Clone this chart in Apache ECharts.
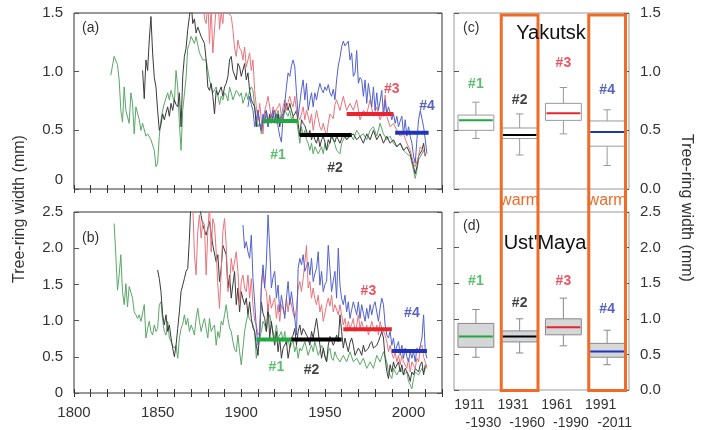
<!DOCTYPE html>
<html><head><meta charset="utf-8">
<script src="https://cdn.jsdelivr.net/npm/echarts@6/dist/echarts.min.js"></script>
<style>html,body{margin:0;padding:0;background:#fff}#c{width:704px;height:430px}</style>
</head><body><div id="c"></div>
<script>
// ---------- Panel (a) Yakutsk series [year, width mm] ----------
const aGreen = [[1822,.97],[1824,1.13],[1826,1.06],[1827,.93],[1828,.67],[1829,.57],[1830,.87],[1831,.67],[1833,.56],[1834,.82],[1835,.73],[1836,.47],[1837,.70],[1839,.59],[1840,.50],[1841,.56],[1843,.45],[1844,.47],[1846,.42],[1848,.33],[1849,.19],[1850,.22],[1851,.45],[1852,.59],[1853,.67],[1854,.73],[1856,.82],[1857,.76],[1858,.84],[1860,.74],[1861,1.01],[1862,.87],[1863,.56],[1864,.33],[1865,.67],[1867,.95],[1868,1.20],[1869,1.24],[1870,1.30],[1872,1.24],[1873,1.30],[1875,1.16],[1877,1.10],[1879,1.10],[1881,.93],[1883,.82],[1885,.87],[1887,.72],[1888,.79],[1889,.76],[1890,.82],[1891,.80],[1892,.75],[1893,.87],[1894,.82],[1895,.76],[1897,.84],[1898,.82],[1899,.79],[1900,.82],[1901,.73],[1903,.82],[1904,.76],[1905,.84],[1906,.87],[1907,.84],[1908,.70],[1909,.59],[1910,.53],[1911,.56],[1912,.47],[1913,.56],[1914,.62],[1916,.53],[1917,.62],[1918,.56],[1919,.64],[1920,.59],[1922,.67],[1923,.59],[1924,.64],[1925,.59],[1926,.67],[1928,.62],[1929,.67],[1930,.59],[1931,.62],[1932,.56],[1933,.59],[1934,.50],[1935,.39],[1936,.53],[1937,.45],[1938,.50],[1939,.42],[1940,.39],[1941,.33],[1942,.39],[1943,.30],[1944,.36],[1946,.30],[1947,.33],[1948,.36],[1949,.30],[1950,.39],[1951,.33],[1952,.36],[1953,.40],[1954,.45],[1955,.42],[1956,.38],[1957,.33],[1959,.30],[1960,.39],[1962,.45],[1963,.42],[1965,.47],[1967,.42],[1969,.50],[1971,.45],[1973,.47],[1975,.42],[1977,.50],[1979,.53],[1981,.45],[1983,.56],[1985,.47],[1987,.42],[1989,.45],[1991,.39],[1993,.36],[1995,.39],[1997,.33],[1999,.30],[2001,.28],[2003,.16],[2004,.09],[2005,.16],[2006,.25],[2008,.30],[2009,.33],[2010,.28]];
const aBlack = [[1841,1.01],[1842,.77],[1843,1.10],[1844,1.01],[1845,1.27],[1846,1.47],[1847,1.16],[1848,.95],[1849,.87],[1850,.67],[1851,.50],[1852,.55],[1853,.64],[1854,.59],[1855,.65],[1856,.70],[1857,.62],[1858,.73],[1859,.67],[1860,.76],[1861,.72],[1862,.70],[1863,.82],[1864,.53],[1865,.96],[1866,1.13],[1867,1.20],[1868,1.36],[1869,1.47],[1870,1.60],[1871,1.41],[1872,1.45],[1873,1.33],[1874,1.38],[1876,1.30],[1878,1.24],[1879,1.10],[1880,.87],[1881,.84],[1882,.90],[1883,.79],[1884,.64],[1885,.84],[1886,.80],[1887,.79],[1888,.87],[1889,.79],[1890,.87],[1891,.90],[1892,.96],[1893,1.10],[1894,1.13],[1895,1.01],[1897,.93],[1898,1.07],[1899,1.04],[1900,.96],[1902,1.07],[1903,.93],[1904,.99],[1905,.84],[1906,.76],[1907,.73],[1908,.70],[1909,.53],[1910,.67],[1911,.56],[1912,.50],[1913,.60],[1914,.64],[1915,.67],[1916,.56],[1917,.64],[1918,.59],[1919,.62],[1920,.67],[1921,.56],[1922,.64],[1923,.53],[1924,.62],[1925,.64],[1926,.67],[1927,.73],[1928,.67],[1929,.73],[1930,.67],[1931,.62],[1932,.64],[1933,.67],[1934,.56],[1935,.45],[1936,.59],[1937,.56],[1938,.54],[1939,.53],[1940,.45],[1941,.50],[1942,.42],[1943,.47],[1944,.42],[1945,.39],[1946,.45],[1947,.36],[1948,.42],[1949,.45],[1950,.40],[1951,.33],[1952,.42],[1953,.39],[1954,.47],[1955,.42],[1956,.40],[1957,.45],[1958,.42],[1959,.39],[1961,.47],[1963,.42],[1965,.45],[1967,.47],[1969,.42],[1971,.45],[1973,.39],[1975,.47],[1977,.42],[1979,.50],[1981,.42],[1983,.47],[1985,.39],[1987,.45],[1989,.39],[1991,.42],[1993,.36],[1995,.39],[1997,.33],[1999,.36],[2001,.30],[2003,.19],[2004,.13],[2005,.19],[2006,.28],[2008,.33],[2009,.39],[2010,.28]];
const aRed = [[1877,1.70],[1878,1.45],[1879,1.41],[1880,1.60],[1881,1.24],[1882,1.55],[1883,1.16],[1884,1.36],[1885,1.55],[1886,1.70],[1887,1.36],[1888,1.50],[1889,1.41],[1890,1.65],[1891,1.55],[1892,1.50],[1894,1.47],[1895,1.36],[1896,1.20],[1897,1.13],[1898,1.27],[1899,1.20],[1900,1.18],[1901,1.10],[1902,1.21],[1903,1.04],[1904,1.10],[1905,1.16],[1906,1.01],[1907,1.10],[1908,.84],[1909,.70],[1910,.59],[1911,.73],[1912,.59],[1913,.47],[1914,.67],[1915,.72],[1916,.79],[1917,.70],[1918,.59],[1919,.70],[1920,.64],[1921,.68],[1922,.70],[1923,.73],[1924,.62],[1925,.70],[1926,.76],[1927,.67],[1928,.74],[1929,.79],[1930,.73],[1931,.70],[1932,.79],[1933,.67],[1934,.62],[1935,.59],[1936,.64],[1937,.70],[1938,.59],[1939,.67],[1940,.62],[1941,.56],[1942,.64],[1943,.50],[1944,.59],[1945,.67],[1946,.60],[1947,.53],[1948,.50],[1949,.56],[1950,.50],[1951,.45],[1952,.56],[1953,.64],[1954,.62],[1955,.60],[1956,.72],[1957,.76],[1958,.76],[1959,.67],[1961,.79],[1963,.67],[1965,.73],[1967,.67],[1969,.76],[1971,.59],[1973,.67],[1975,.64],[1977,.76],[1979,.62],[1981,.70],[1983,.59],[1985,.67],[1986,.80],[1987,.62],[1989,.53],[1991,.56],[1993,.50],[1995,.45],[1997,.47],[1999,.39],[2001,.33],[2003,.22],[2004,.19],[2006,.28],[2007,.36],[2009,.33],[2010,.29]];
const aBlue = [[1904,.70],[1905,.79],[1906,.72],[1907,.67],[1908,.53],[1909,.59],[1910,.67],[1911,.55],[1912,.50],[1913,.64],[1914,.56],[1915,.67],[1916,.53],[1917,.60],[1918,.62],[1919,.67],[1920,.56],[1921,.64],[1922,.53],[1923,.45],[1924,.40],[1925,.62],[1926,.73],[1927,.87],[1928,.99],[1929,.96],[1930,1.05],[1931,1.10],[1932,1.04],[1933,.82],[1934,.62],[1935,.73],[1936,.85],[1937,.93],[1938,.76],[1939,.90],[1940,.67],[1941,.75],[1942,.82],[1943,.70],[1944,.82],[1945,.76],[1946,.84],[1947,.90],[1948,.85],[1949,.82],[1950,.87],[1951,.84],[1952,.89],[1953,.82],[1954,.79],[1955,.85],[1956,.76],[1957,.93],[1958,1.05],[1959,1.12],[1960,1.21],[1961,1.26],[1962,1.22],[1963,1.21],[1964,1.26],[1965,1.10],[1966,1.16],[1967,.96],[1968,.99],[1969,1.18],[1970,.90],[1971,.95],[1972,.93],[1973,.79],[1974,.93],[1975,.73],[1976,.90],[1977,.80],[1978,.70],[1979,.87],[1980,.67],[1981,.82],[1982,.67],[1983,.75],[1984,.84],[1985,.62],[1986,.76],[1987,.64],[1988,.70],[1989,.65],[1990,.59],[1991,.64],[1992,.56],[1993,.62],[1994,.53],[1995,.58],[1996,.62],[1997,.47],[1998,.59],[1999,.45],[2000,.53],[2001,.45],[2002,.39],[2003,.28],[2004,.22],[2005,.42],[2006,.59],[2007,.67],[2008,.60],[2009,.53],[2010,.42],[2011,.30]];

// ---------- Panel (b) Ust'Maya series ----------
const bGreen = [[1824,2.34],[1825,1.91],[1826,1.42],[1827,1.63],[1828,1.91],[1829,1.40],[1830,1.22],[1831,1.51],[1832,1.19],[1833,1.47],[1835,1.31],[1836,1.12],[1837,1.08],[1838,1.03],[1839,1.08],[1840,.99],[1842,1.22],[1843,.76],[1844,.89],[1845,.99],[1846,.85],[1847,.80],[1848,.94],[1849,.85],[1850,.89],[1851,1.22],[1852,1.26],[1853,1.00],[1854,.85],[1855,.80],[1856,.99],[1857,.76],[1858,.71],[1859,.65],[1860,.62],[1861,.66],[1862,.48],[1863,.76],[1864,.89],[1865,.95],[1866,1.08],[1867,.94],[1868,1.03],[1869,.85],[1870,.94],[1871,.88],[1872,.80],[1873,1.03],[1874,1.17],[1875,.99],[1876,.85],[1877,.95],[1878,1.03],[1879,.89],[1880,.76],[1881,1.03],[1882,.85],[1883,.90],[1884,.94],[1885,.66],[1886,.85],[1887,.76],[1888,.99],[1889,.94],[1890,1.08],[1891,1.22],[1892,1.03],[1893,.90],[1894,.85],[1895,.71],[1896,.60],[1897,.57],[1898,.80],[1899,.57],[1900,.39],[1901,.62],[1902,.85],[1903,.99],[1904,1.08],[1905,1.02],[1906,.99],[1907,.94],[1908,.85],[1909,.48],[1910,.62],[1911,.75],[1912,.85],[1913,.99],[1914,.94],[1915,.85],[1916,1.03],[1917,1.08],[1918,.95],[1919,.85],[1920,.76],[1921,.94],[1922,.76],[1923,.80],[1924,.85],[1925,.71],[1926,.85],[1927,.66],[1928,.76],[1929,.62],[1930,.68],[1931,.71],[1932,.57],[1933,.66],[1934,.48],[1935,.62],[1936,.58],[1937,.57],[1938,.71],[1939,.62],[1940,.52],[1941,.60],[1942,.66],[1943,.57],[1944,.71],[1945,.62],[1946,.52],[1947,.58],[1948,.66],[1949,.62],[1950,.52],[1951,.43],[1952,.57],[1953,.62],[1954,.48],[1955,.45],[1956,.57],[1957,.50],[1958,.48],[1959,.43],[1961,.52],[1963,.43],[1965,.57],[1967,.43],[1969,.48],[1971,.39],[1973,.48],[1975,.34],[1977,.43],[1979,.34],[1981,.52],[1983,.43],[1985,.57],[1987,.43],[1988,.29],[1990,.20],[1991,.34],[1993,.25],[1995,.34],[1997,.25],[1999,.29],[2000,.16],[2002,.06],[2003,.20],[2004,.29],[2006,.25],[2008,.34],[2009,.29],[2011,.39]];
const bBlack = [[1850,1.70],[1851,1.58],[1852,1.40],[1853,1.08],[1854,.94],[1855,1.08],[1856,.85],[1857,.94],[1858,.76],[1859,.62],[1860,.50],[1861,.66],[1862,.89],[1863,1.12],[1864,1.40],[1866,1.58],[1867,1.68],[1868,1.72],[1869,2.14],[1870,2.70],[1871,2.80],[1873,2.70],[1875,2.60],[1876,2.45],[1877,2.32],[1879,2.18],[1881,2.37],[1883,2.04],[1885,1.81],[1886,1.91],[1887,1.54],[1888,1.72],[1889,2.04],[1890,2.04],[1891,1.91],[1892,1.45],[1893,1.63],[1894,1.31],[1895,1.50],[1896,1.68],[1897,1.22],[1898,1.45],[1899,1.12],[1900,1.40],[1901,1.30],[1902,1.22],[1903,1.31],[1904,1.08],[1905,1.26],[1906,1.03],[1907,.90],[1908,.85],[1909,.66],[1910,.52],[1911,.85],[1912,1.26],[1913,1.10],[1914,1.03],[1915,.85],[1916,1.22],[1917,.76],[1918,.99],[1919,.80],[1920,.66],[1921,.85],[1922,.57],[1923,.76],[1924,.48],[1925,.62],[1926,.62],[1927,.71],[1928,.48],[1929,.62],[1930,.76],[1931,.80],[1932,.89],[1933,.66],[1934,.85],[1935,.94],[1936,.80],[1937,.89],[1938,.85],[1939,.80],[1940,.76],[1941,.66],[1942,.85],[1943,.76],[1944,.90],[1945,1.03],[1946,.85],[1947,.66],[1948,.48],[1949,.62],[1950,.50],[1951,.43],[1952,.66],[1953,.78],[1954,.76],[1955,.66],[1956,.72],[1957,.80],[1958,.71],[1959,1.08],[1960,.85],[1961,.62],[1962,.76],[1963,.66],[1964,.57],[1965,.70],[1966,.76],[1967,.66],[1968,.52],[1970,.62],[1971,.58],[1972,.52],[1973,.66],[1974,.57],[1976,.62],[1977,.68],[1978,.71],[1979,.62],[1981,.66],[1982,.71],[1984,.85],[1985,.76],[1986,.48],[1987,.30],[1988,.20],[1989,.39],[1990,.29],[1991,.43],[1992,.34],[1994,.43],[1995,.29],[1996,.39],[1997,.25],[1998,.34],[2000,.25],[2001,.16],[2002,.29],[2003,.25],[2004,.34],[2006,.29],[2007,.39],[2008,.43],[2009,.25],[2010,.39]];
const bRed = [[1871,2.60],[1872,1.91],[1873,1.63],[1874,2.23],[1875,2.46],[1876,2.14],[1877,2.37],[1878,2.32],[1879,1.63],[1880,2.23],[1881,2.60],[1882,1.95],[1883,2.41],[1884,2.32],[1885,1.95],[1886,1.49],[1887,1.17],[1888,1.68],[1889,2.23],[1890,2.41],[1891,2.04],[1892,1.40],[1893,1.49],[1894,1.86],[1895,1.68],[1897,1.95],[1898,1.68],[1899,1.22],[1900,1.54],[1901,1.63],[1902,1.45],[1903,1.40],[1904,1.63],[1905,1.31],[1906,1.58],[1907,1.22],[1908,1.00],[1909,.94],[1910,.80],[1911,.85],[1912,1.45],[1913,1.68],[1914,1.45],[1915,1.40],[1916,1.12],[1917,1.35],[1918,1.17],[1919,1.25],[1920,1.31],[1921,1.03],[1922,1.22],[1923,.99],[1924,1.22],[1925,1.15],[1926,1.08],[1927,1.31],[1928,1.12],[1929,1.31],[1930,1.22],[1931,1.10],[1932,1.03],[1933,1.17],[1934,1.45],[1935,1.54],[1936,1.40],[1937,1.58],[1938,1.80],[1939,2.04],[1940,1.45],[1941,1.54],[1942,1.31],[1943,1.45],[1944,1.30],[1945,1.22],[1946,1.35],[1947,1.12],[1948,1.22],[1949,.99],[1950,1.10],[1951,1.22],[1952,1.31],[1953,1.20],[1954,1.35],[1955,1.12],[1956,1.22],[1957,1.22],[1958,1.08],[1959,1.22],[1960,1.20],[1961,.94],[1962,1.03],[1963,.85],[1964,.99],[1965,.89],[1966,.95],[1967,1.03],[1968,.85],[1969,.94],[1970,1.08],[1971,.89],[1972,.99],[1973,.90],[1974,.85],[1975,.94],[1976,.80],[1977,.89],[1978,.99],[1979,.90],[1980,.85],[1981,.94],[1982,.80],[1983,.99],[1984,.89],[1985,.85],[1986,.80],[1987,.71],[1988,.57],[1989,.66],[1990,.55],[1991,.48],[1992,.57],[1993,.43],[1994,.52],[1995,.39],[1996,.52],[1997,.43],[1998,.45],[1999,.34],[2000,.48],[2001,.29],[2002,.43],[2003,.38],[2004,.34],[2005,.48],[2006,.43],[2007,.62],[2008,.66],[2009,.50],[2010,.43],[2011,.34]];
const bBlue = [[1901,2.32],[1902,2.00],[1903,2.09],[1904,1.95],[1905,1.86],[1906,2.18],[1907,1.58],[1908,1.26],[1909,.89],[1910,.66],[1911,.76],[1912,1.49],[1913,1.77],[1914,1.45],[1915,1.80],[1916,2.46],[1917,2.00],[1918,1.45],[1919,1.60],[1920,1.68],[1921,1.31],[1922,1.49],[1923,1.12],[1924,1.35],[1925,1.20],[1926,1.03],[1927,1.31],[1928,1.54],[1929,1.22],[1930,1.40],[1931,1.20],[1932,1.03],[1933,.80],[1934,1.72],[1935,1.86],[1936,1.77],[1937,1.91],[1938,1.68],[1939,1.75],[1940,1.81],[1941,1.63],[1942,1.86],[1943,1.54],[1944,1.65],[1945,1.72],[1946,1.95],[1947,1.49],[1948,1.68],[1949,1.40],[1950,1.50],[1951,1.54],[1952,2.04],[1953,1.72],[1954,1.40],[1955,1.55],[1956,1.68],[1957,1.31],[1958,2.00],[1959,1.49],[1960,1.30],[1961,1.22],[1962,1.35],[1963,1.12],[1964,1.26],[1965,1.03],[1966,1.15],[1967,1.26],[1968,1.17],[1969,1.08],[1970,1.26],[1971,1.03],[1972,1.22],[1973,1.10],[1974,.99],[1975,1.17],[1976,1.03],[1977,1.22],[1978,1.08],[1979,1.20],[1980,1.26],[1981,1.12],[1982,.99],[1983,1.17],[1984,1.31],[1985,1.22],[1986,.94],[1987,.80],[1988,.76],[1989,.85],[1990,.66],[1991,.76],[1992,.57],[1993,.65],[1994,.71],[1995,.52],[1996,.66],[1997,.48],[1998,.62],[1999,.50],[2000,.43],[2001,.57],[2002,.48],[2003,.57],[2004,.43],[2005,.62],[2006,.57],[2007,.65],[2008,.76],[2009,1.08],[2010,.57],[2011,.48]];

// ---------- period means (thick segments) ----------
const tags = ['#1','#2','#3','#4'];
const aSegStart = [1913,1935,1963,1992], aSegEnd = [1934,1966,1991,2012], aSegVal = [0.58,0.46,0.64,0.48];
const bSegStart = [1909,1930,1961,1990], bSegEnd = [1930,1960,1990,2011], bSegVal = [0.74,0.74,0.88,0.58];
const aTagYear = [1922,1956,1990,2011], aTagVal = [0.29,0.18,0.85,0.71];
const bTagYear = [1921,1942,1976,2002], bTagVal = [0.36,0.32,1.40,1.10];

// ---------- box plots: [low whisker, Q1, median, Q3, high whisker] ----------
const periodStart = ['1911','1931','1961','1991'];
const periodEnd = ['-1930','-1960','-1990','-2011'];
const cBoxes = [[0.43,0.50,0.585,0.63,0.74],[0.29,0.43,0.46,0.52,0.64],[0.47,0.585,0.645,0.73,0.865],[0.20,0.365,0.485,0.58,0.675]];
const dBoxes = [[0.46,0.60,0.75,0.935,1.13],[0.52,0.675,0.75,0.83,1.00],[0.62,0.775,0.88,1.00,1.29],[0.355,0.46,0.54,0.655,0.84]];
const cTagVal = [0.89,0.76,1.07,0.84];
const dTagVal = [1.53,1.22,1.53,1.14];
const warmIdx = [1,3];

// ---------- styles ----------
const FONT = 'Liberation Sans, Arial, Helvetica, sans-serif';
const lineCol = ['#5aa866','#3a3a3a','#e8747c','#5262cc'];
const segCol = ['#21a83f','#000000','#e8242e','#2233bb'];
const tagCol = ['#2fae4a','#111111','#e8283a','#2a3cb4'];
const ORANGE = '#f06b25';

const chart = echarts.init(document.getElementById('c'), null, {renderer:'canvas'});

function xVal(grid, labels){
  return {type:'value', gridIndex:grid, min:1800, max:2020, interval:10,
    axisLine:{show:false}, splitLine:{show:false},
    axisTick:{show:true, inside:true, length:4, lineStyle:{color:'#333'}},
    axisLabel:{show:labels, margin:12, fontSize:15, color:'#333', fontFamily:FONT,
      formatter:v => (v % 50 === 0 ? String(v) : '')}};
}
function xTop(grid){
  const a = xVal(grid,false); a.position='top'; return a;
}
function yVal(grid, max, pos, labels, fmt0){
  return {type:'value', gridIndex:grid, min:0, max:max, interval:0.5, position:pos,
    axisLine:{show:false}, splitLine:{show:false},
    axisTick:{show:true, inside:true, length:5, lineStyle:{color:'#555'}},
    axisLabel:{show:labels, margin:11, fontSize:15, color:'#333', fontFamily:FONT,
      formatter:v => (v === 0 ? (fmt0 === 'shift' ? '{z|0}' : fmt0) : v.toFixed(1)),
      rich:{z:{fontSize:15, color:'#333', fontFamily:FONT, padding:[0,0,18,0]}}}};
}
function xCat(grid, labels){
  return {type:'category', gridIndex:grid, data:periodStart.map((s,i)=>s+'\n'+periodEnd[i]),
    boundaryGap:true, axisLine:{show:false}, axisTick:{show:false}, splitLine:{show:false},
    axisLabel:{show:labels, margin:6, interval:0, color:'#333', fontFamily:FONT, fontSize:14,
      formatter:v => { const p=v.split('\n'); return '{a|'+p[0]+'}\n{b|'+p[1]+'}'; },
      rich:{a:{fontSize:14, color:'#333', fontFamily:FONT, lineHeight:18, padding:[0,13,0,0]},
            b:{fontSize:14, color:'#333', fontFamily:FONT, lineHeight:18, padding:[0,0,0,15]}}}};
}

function lineSeries(data, xi, yi, ci){
  return {type:'line', xAxisIndex:xi, yAxisIndex:yi, data:data, showSymbol:false, symbol:'none',
    lineStyle:{width:1, color:lineCol[ci]}, itemStyle:{color:lineCol[ci]}, clip:true, z:2+ci};
}
function segSeries(s, e, v, xi, yi){
  return s.map((st,i)=>({type:'line', xAxisIndex:xi, yAxisIndex:yi, data:[[st,v[i]],[e[i],v[i]]],
    showSymbol:false, symbol:'none', lineStyle:{width:4, color:segCol[i]}, z:10}));
}
function tagSeries(xs, ys, xi, yi){
  return {type:'scatter', xAxisIndex:xi, yAxisIndex:yi, symbolSize:1, itemStyle:{color:'rgba(0,0,0,0)'},
    data: xs.map((x,i)=>({value:[x,ys[i]], label:{color:tagCol[i]}})),
    label:{show:true, position:'inside', fontSize:14, fontWeight:'bold', fontFamily:FONT,
      formatter:p => tags[p.dataIndex]}, z:12};
}
function boxSeries(boxes, xi, yi, fill, stroke){
  return {type:'custom', xAxisIndex:xi, yAxisIndex:yi,
    data: boxes.map((b,i)=>[i].concat(b)),
    encode:{x:0, y:[1,2,3,4,5]},
    renderItem:(params, api) => {
      const cat = api.value(0);
      const lo = api.coord([cat, api.value(1)]);
      const q1 = api.coord([cat, api.value(2)]);
      const md = api.coord([cat, api.value(3)]);
      const q3 = api.coord([cat, api.value(4)]);
      const hi = api.coord([cat, api.value(5)]);
      const bw = api.size([1,0])[0];
      const w = bw*0.82, cap = bw*0.17, x = lo[0];
      const st = {stroke:stroke, lineWidth:1};
      return {type:'group', children:[
        {type:'line', shape:{x1:x,y1:hi[1],x2:x,y2:q3[1]}, style:st},
        {type:'line', shape:{x1:x,y1:q1[1],x2:x,y2:lo[1]}, style:st},
        {type:'line', shape:{x1:x-cap/2,y1:hi[1],x2:x+cap/2,y2:hi[1]}, style:st},
        {type:'line', shape:{x1:x-cap/2,y1:lo[1],x2:x+cap/2,y2:lo[1]}, style:st},
        {type:'rect', shape:{x:x-w/2,y:q3[1],width:w,height:q1[1]-q3[1]}, style:{fill:fill, stroke:stroke, lineWidth:1}},
        {type:'line', shape:{x1:x-w/2+1,y1:md[1],x2:x+w/2-1,y2:md[1]}, style:{stroke:segCol[cat], lineWidth:2}}
      ]};
    }, z:5};
}

const option = {
  animation:false,
  backgroundColor:'#ffffff',
  grid:[
    {left:74, top:13, width:368, height:176, show:true, borderColor:'#333', borderWidth:1, backgroundColor:'transparent'},
    {left:74, top:212, width:368, height:181, show:true, borderColor:'#333', borderWidth:1, backgroundColor:'transparent'},
    {left:454, top:13, width:175, height:176, show:true, borderColor:'#999', borderWidth:1, backgroundColor:'transparent'},
    {left:454, top:212, width:175, height:181, show:true, borderColor:'#999', borderWidth:1, backgroundColor:'transparent'}
  ],
  xAxis:[ xVal(0,false), xTop(0), xVal(1,true), xTop(1), xCat(2,false), xCat(3,true) ],
  yAxis:[
    yVal(0,1.5,'left',true,'shift'), yVal(0,1.5,'right',false,'0'),
    yVal(1,2.5,'left',true,'0'), yVal(1,2.5,'right',false,'0'),
    yVal(2,1.5,'right',true,'0.0'), yVal(2,1.5,'left',false,'0.0'),
    yVal(3,2.5,'right',true,'0.0'), yVal(3,2.5,'left',false,'0.0')
  ],
  series:[
    lineSeries(aGreen,0,0,0), lineSeries(aBlack,0,0,1), lineSeries(aRed,0,0,2), lineSeries(aBlue,0,0,3),
    ...segSeries(aSegStart,aSegEnd,aSegVal,0,0),
    tagSeries(aTagYear,aTagVal,0,0),
    lineSeries(bGreen,2,2,0), lineSeries(bBlack,2,2,1), lineSeries(bRed,2,2,2), lineSeries(bBlue,2,2,3),
    ...segSeries(bSegStart,bSegEnd,bSegVal,2,2),
    tagSeries(bTagYear,bTagVal,2,2),
    boxSeries(cBoxes,4,4,'#ffffff','#999'),
    tagSeries([0,1,2,3],cTagVal,4,4),
    boxSeries(dBoxes,5,6,'#d4d6d8','#888'),
    tagSeries([0,1,2,3],dTagVal,5,6)
  ]
};
chart.setOption(option);

// annotations positioned from the axes
const c1 = chart.convertToPixel({xAxisIndex:4}, 1);
const c2 = chart.convertToPixel({xAxisIndex:4}, 2);
const bw = c2 - c1;
const topY = chart.convertToPixel({yAxisIndex:4}, 1.5);
const botY = chart.convertToPixel({yAxisIndex:6}, 0);
const midY = (chart.convertToPixel({yAxisIndex:4}, 0) + chart.convertToPixel({yAxisIndex:6}, 2.5)) / 2;
const g = [];
warmIdx.forEach(i => {
  const cx = chart.convertToPixel({xAxisIndex:4}, i);
  g.push({type:'rect', z:100, shape:{x:cx-bw/2+3.5, y:topY+2, width:bw-7, height:botY-topY-1.5},
    style:{fill:'none', stroke:ORANGE, lineWidth:3}});
  g.push({type:'text', z:101, x:cx, y:midY, style:{text:'warm', fill:ORANGE, font:'16px '+FONT, align:'center', verticalAlign:'middle'}});
});
const texts = [
  ['(a)', 82, 28, 14, 'left'], ['(b)', 82, 238, 14, 'left'],
  ['(c)', 463, 28, 14, 'left'], ['(d)', 463, 226, 14, 'left']
];
texts.forEach(t => g.push({type:'text', z:102, x:t[1], y:t[2], style:{text:t[0], fill:'#333', font:t[3]+'px '+FONT, align:t[4], verticalAlign:'middle'}}));
g.push({type:'text', z:102, x:551, y:33, style:{text:'Yakutsk', fill:'#111', font:'20px '+FONT, align:'center', verticalAlign:'middle'}});
g.push({type:'text', z:102, x:545, y:243, style:{text:"Ust'Maya", fill:'#111', font:'20px '+FONT, align:'center', verticalAlign:'middle'}});
g.push({type:'text', z:102, x:20, y:209, rotation:Math.PI/2, style:{text:'Tree-ring width (mm)', fill:'#333', font:'16px '+FONT, align:'center', verticalAlign:'middle'}});
g.push({type:'text', z:102, x:686, y:208, rotation:-Math.PI/2, style:{text:'Tree-ring width (mm)', fill:'#333', font:'16px '+FONT, align:'center', verticalAlign:'middle'}});
chart.setOption({graphic:{elements:g}});
</script></body></html>
